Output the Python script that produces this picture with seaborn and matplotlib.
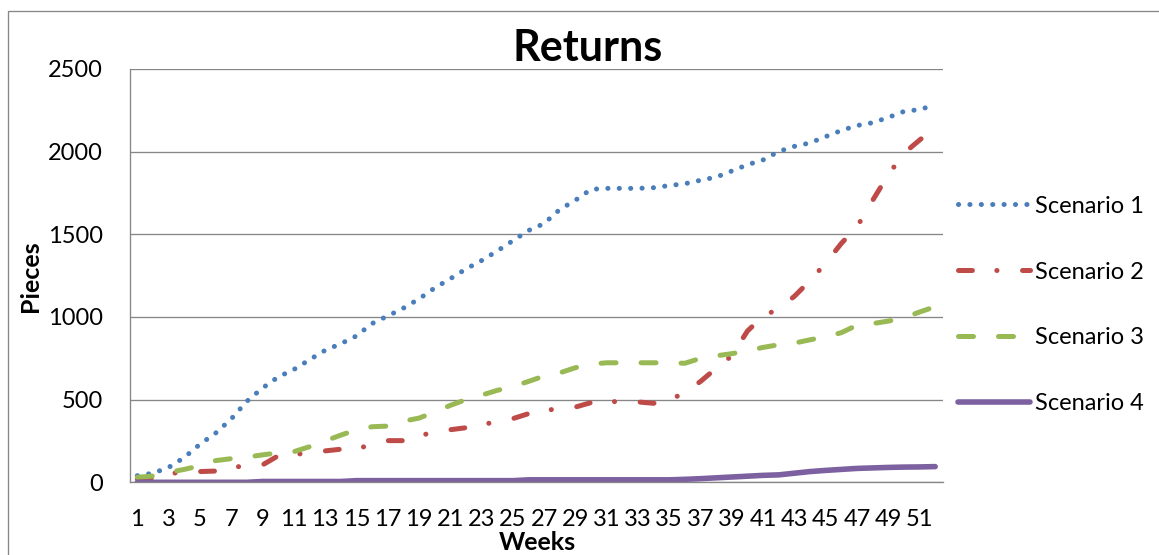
import matplotlib
matplotlib.use("Agg")
import matplotlib.pyplot as plt
import matplotlib.patches as mpatches
import seaborn as sns
import pandas as pd

# ---- data ----
weeks = list(range(1, 53))
scenario_1 = [40, 55, 90, 150, 230, 297, 383, 490, 570, 637,
              682, 741, 798, 838, 885, 960, 1006, 1053, 1109, 1175,
              1231, 1290, 1341, 1399, 1461, 1523, 1565, 1650, 1706, 1772,
              1778, 1778, 1778, 1782, 1795, 1806, 1827, 1846, 1883, 1921,
              1950, 2001, 2032, 2053, 2091, 2128, 2158, 2175, 2207, 2243,
              2255, 2282]
scenario_2 = [20, 25, 50, 65, 65, 68, 90, 100, 105, 160,
              168, 178, 190, 200, 205, 225, 252, 252, 280, 305,
              318, 330, 350, 365, 385, 415, 435, 445, 455, 482,
              488, 488, 486, 478, 495, 545, 610, 690, 765, 915,
              1005, 1050, 1125, 1220, 1325, 1445, 1545, 1705, 1860, 1990,
              2070, 2145]
scenario_3 = [30, 38, 60, 78, 100, 131, 143, 152, 166, 178,
              185, 215, 250, 285, 318, 336, 340, 370, 388, 425,
              465, 500, 527, 556, 580, 610, 643, 662, 693, 715,
              723, 723, 723, 723, 723, 720, 750, 765, 778, 795,
              816, 832, 842, 862, 880, 905, 950, 960, 975, 995,
              1030, 1062]
scenario_4 = [0, 0, 0, 0, 0, 0, 0, 0, 5, 5,
              5, 5, 5, 5, 10, 10, 10, 10, 10, 10,
              10, 10, 10, 10, 10, 15, 15, 15, 15, 15,
              15, 15, 15, 15, 15, 18, 22, 27, 32, 37,
              42, 45, 55, 65, 72, 78, 84, 87, 90, 92,
              93, 95]
series_names = ["Scenario 1", "Scenario 2", "Scenario 3", "Scenario 4"]
x_tick_weeks = list(range(1, 53, 2))
y_ticks = [0, 500, 1000, 1500, 2000, 2500]

df = pd.concat([
    pd.DataFrame({"Week": weeks, "Pieces": vals, "Scenario": name})
    for name, vals in zip(series_names, [scenario_1, scenario_2, scenario_3, scenario_4])
], ignore_index=True)

# ---- style ----
sns.set_theme(style="white")
plt.rcParams["font.family"] = ["Lato", "DejaVu Sans"]
plt.rcParams["text.color"] = "black"
plt.rcParams["axes.labelcolor"] = "black"
plt.rcParams["lines.scale_dashes"] = False
plt.rcParams["lines.dash_capstyle"] = "round"
plt.rcParams["lines.solid_capstyle"] = "round"
plt.rcParams["lines.dash_joinstyle"] = "round"
plt.rcParams["lines.solid_joinstyle"] = "round"

palette = {"Scenario 1": "#4A7EBB", "Scenario 2": "#BE4B48",
           "Scenario 3": "#98B954", "Scenario 4": "#7D60A0"}
dashes = {"Scenario 1": (0.1, 8.1),
          "Scenario 2": (10, 17.6, 0.1, 18.4),
          "Scenario 3": (10.8, 18),
          "Scenario 4": ""}
grey = "#868686"

W, H = 1159, 555
fig = plt.figure(figsize=(W / 100, H / 100), dpi=100)
ax = fig.add_axes([129.5 / W, 72.7 / H, 813.5 / W, 413.3 / H])

sns.lineplot(data=df, x="Week", y="Pieces", hue="Scenario", style="Scenario",
             palette=palette, dashes=dashes, linewidth=3.6, ax=ax)
for ln in ax.lines:
    if ln.get_linestyle() == "-":
        ln.set_linewidth(4.0)

ax.set_xlim(0.5, 52.5)
ax.set_ylim(0, 2500)
ax.set_xticks(x_tick_weeks)
ax.set_xticklabels([str(w) for w in x_tick_weeks])
ax.set_yticks(y_ticks)
ax.set_yticklabels([str(v) for v in y_ticks])
ax.tick_params(axis="both", labelsize=17, length=0, pad=19,
               colors="black", labelcolor="black")
ax.yaxis.grid(True, color=grey, linewidth=0.95)
ax.xaxis.grid(False)
ax.set_axisbelow(True)
for s in ["top", "right"]:
    ax.spines[s].set_visible(False)
for s in ["left", "bottom"]:
    ax.spines[s].set_color(grey)
    ax.spines[s].set_linewidth(0.95)

ax.set_xlabel("Weeks", fontsize=18, fontweight="bold", va="center", color="black")
ax.xaxis.set_label_coords((537 - 129.5) / 813.5, (13 - 72.7) / 413.3)
ax.set_ylabel("Pieces", fontsize=18, fontweight="bold", va="center", color="black")
ax.yaxis.set_label_coords((31 - 129.5) / 813.5, 0.499)

ax.set_title("Returns", fontsize=31, fontweight="bold", pad=0, color="black",
             x=(588 - 129.5) / 813.5, y=(494 - 72.7) / 413.3, va="baseline")

handles, labels = ax.get_legend_handles_labels()
leg = ax.legend(handles, labels, loc="center left",
                bbox_to_anchor=(958 / W, 1 - 305 / H), bbox_transform=fig.transFigure,
                frameon=False, fontsize=17, handlelength=3.06, handletextpad=0.2,
                labelspacing=1.9, borderpad=0, borderaxespad=0)
for h in leg.legend_handles:
    h.set_linewidth(4.0 if h.get_linestyle() == "-" else 3.6)
for t in leg.get_texts():
    t.set_color("black")

# outer chart frame (clipped by the image at right and bottom)
frame = mpatches.Rectangle((8 / W, -0.1), 1.2, (H - 10.5) / H + 0.1,
                           transform=fig.transFigure, fill=False,
                           edgecolor=grey, linewidth=0.95)
fig.patches.append(frame)

fig.savefig("out.png", dpi=100)
